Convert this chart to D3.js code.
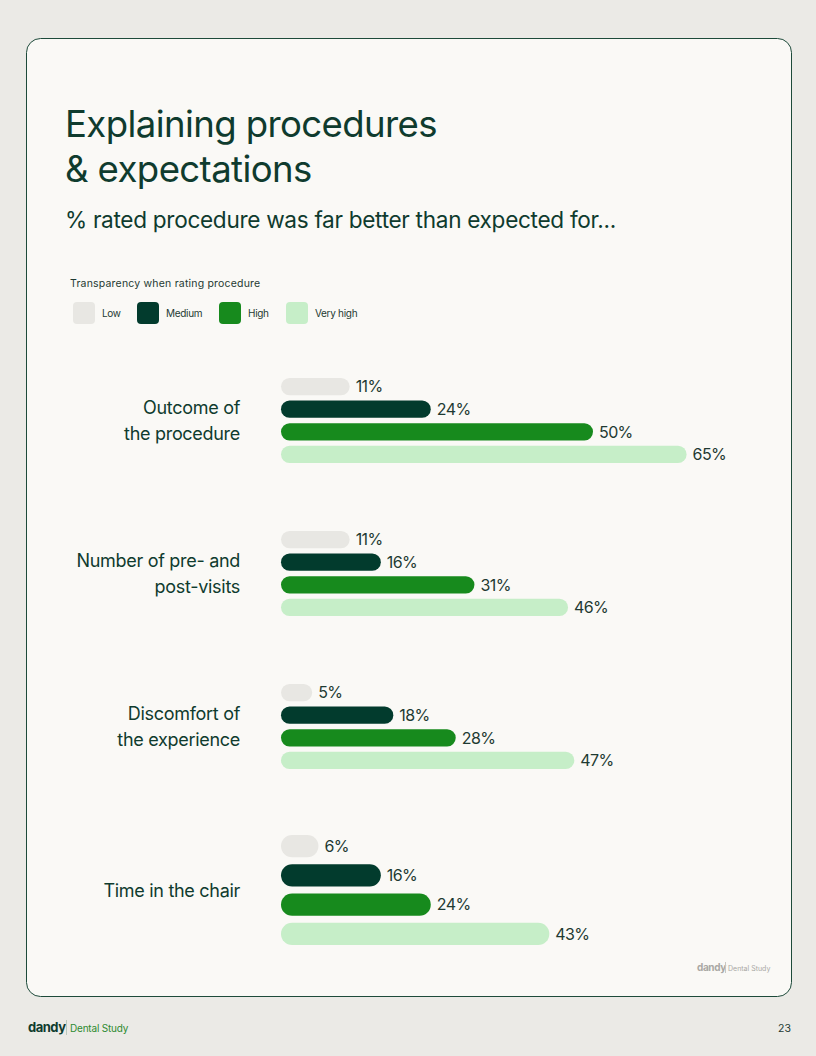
<!DOCTYPE html>
<html>
<head>
<meta charset="utf-8">
<script src="https://cdn.jsdelivr.net/npm/d3@7"></script>
<style>
  html, body { margin: 0; padding: 0; background: #ebeae6; }
  svg { display: block; font-family: Inter, "Noto Sans", sans-serif; }
</style>
</head>
<body>
<svg id="page" width="816" height="1056"></svg>
<script>
// ---------- data ----------
const categories = ["Outcome of\nthe procedure", "Number of pre- and\npost-visits", "Discomfort of\nthe experience", "Time in the chair"]
const levels = ["Low", "Medium", "High", "Very high"]
const low = [11, 11, 5, 6]
const medium = [24, 16, 18, 16]
const high = [50, 31, 28, 24]
const veryHigh = [65, 46, 47, 43]
const series = [low, medium, high, veryHigh]

// ---------- layout ----------
const ink = "#0f3b2e"
const colors = ["#e8e7e3", "#023b2d", "#178a1d", "#c6eec8"]
// vertical span of each question's bars
const groupSpans = [[378, 463], [531, 616], [684, 769], [835, 945]]

const svg = d3.select("#page")

// page + card
svg.append("rect").attr("width", 816).attr("height", 1056).attr("fill", "#ebeae6")
svg.append("rect")
  .attr("x", 26.5).attr("y", 38.5).attr("width", 765).attr("height", 958)
  .attr("rx", 14).attr("fill", "#faf9f6").attr("stroke", "#1d4a3a").attr("stroke-width", 1)

// fit a text line to a target width by adjusting font size
function fit(sel, w) {
  const len = sel.node().getComputedTextLength()
  const fs = parseFloat(sel.attr("font-size"))
  sel.attr("font-size", fs * w / len)
  return fs * w / len
}

// title
const t1 = svg.append("text").attr("x", 65).attr("y", 137)
  .attr("font-size", 36).attr("fill", ink).attr("letter-spacing", -0.6)
  .text("Explaining procedures")
const tfs = fit(t1, 372)
svg.append("text").attr("x", 65).attr("y", 182)
  .attr("font-size", tfs).attr("fill", ink).attr("letter-spacing", -0.6)
  .text("& expectations")

const sub = svg.append("text").attr("x", 65).attr("y", 228)
  .attr("font-size", 22).attr("fill", ink).attr("letter-spacing", -0.3)
  .text("% rated procedure was far better than expected for...")
fit(sub, 551)

// legend
svg.append("text").attr("x", 70).attr("y", 287)
  .attr("font-size", 10.5).attr("fill", "#1e3a32").attr("letter-spacing", 0.2)
  .text("Transparency when rating procedure")

const legendX = [73, 137, 219, 286]
const legend = svg.append("g").selectAll("g")
  .data(levels).join("g")
  .attr("transform", (d, i) => `translate(${legendX[i]},302)`)
legend.append("rect").attr("width", 22).attr("height", 22).attr("rx", 4)
  .attr("fill", (d, i) => colors[i])
legend.append("text").attr("x", 29).attr("y", 11).attr("dy", "0.35em")
  .attr("font-size", 10).attr("fill", "#1e3a32").attr("letter-spacing", -0.3)
  .text(d => d)

// scales
const x = d3.scaleLinear().domain([0, 100]).range([281, 905])

const groups = svg.append("g").selectAll("g")
  .data(categories).join("g")

groups.each(function (cat, gi) {
  const g = d3.select(this)
  const y = d3.scaleBand().domain(levels).range(groupSpans[gi]).paddingInner(0.24)
  const bh = y.bandwidth()

  const rows = levels.map((lv, li) => ({ lv, li, v: series[li][gi] }))

  g.selectAll("rect").data(rows).join("rect")
    .attr("x", x(0))
    .attr("y", d => y(d.lv))
    .attr("width", d => x(d.v) - x(0))
    .attr("height", bh)
    .attr("rx", bh / 2)
    .attr("fill", d => colors[d.li])

  g.selectAll("text.val").data(rows).join("text")
    .attr("class", "val")
    .attr("x", d => x(d.v) + 6)
    .attr("y", d => y(d.lv) + bh / 2)
    .attr("dy", "0.36em")
    .attr("font-size", 16).attr("fill", "#1e3a32").attr("letter-spacing", -0.6)
    .text(d => d.v + "%")

  // category label, right aligned
  const lines = cat.split("\n")
  const mid = (groupSpans[gi][0] + groupSpans[gi][1]) / 2
  g.append("text")
    .attr("text-anchor", "end")
    .attr("font-size", 18).attr("fill", ink).attr("letter-spacing", -0.3)
    .selectAll("tspan").data(lines).join("tspan")
    .attr("x", 240)
    .attr("y", (d, i) => mid + 6.5 - (lines.length - 1) * 13 + i * 26)
    .text(d => d)
})

// in-card logo
const logo2 = svg.append("g").attr("transform", "translate(697,971)").attr("fill", "#a9a8a4")
logo2.append("text").attr("font-size", 10).attr("font-weight", 700).attr("letter-spacing", -0.4).text("dandy")
logo2.append("line").attr("x1", 28.5).attr("x2", 28.5).attr("y1", -9).attr("y2", 2).attr("stroke", "#c8c7c3")
logo2.append("text").attr("x", 31).attr("font-size", 7).text("Dental Study")

// footer
const logo = svg.append("g").attr("transform", "translate(28,1032)")
logo.append("text").attr("font-size", 13).attr("font-weight", 700).attr("fill", "#0f3b2e")
  .attr("letter-spacing", -0.5).text("dandy")
logo.append("line").attr("x1", 38.5).attr("x2", 38.5).attr("y1", -12).attr("y2", 3).attr("stroke", "#b9c9bd")
logo.append("text").attr("x", 42).attr("font-size", 10).attr("fill", "#2e8b30").attr("letter-spacing", -0.2)
  .text("Dental Study")

svg.append("text").attr("x", 791).attr("y", 1032).attr("text-anchor", "end")
  .attr("font-size", 10.5).attr("fill", "#1e3a32").text("23")
</script>
</body>
</html>
